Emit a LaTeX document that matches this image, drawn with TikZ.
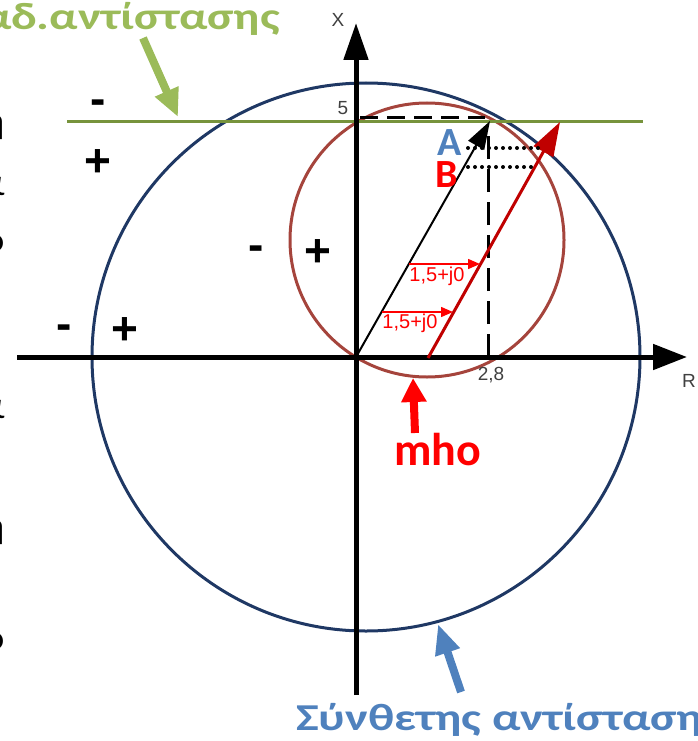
\documentclass[tikz,border=0pt]{standalone}
\usepackage{fontspec}
\setmainfont{Carlito}
\newfontfamily\arialfont{Liberation Sans}
\newfontfamily\widefont[FakeStretch=1.27]{Carlito}
\usetikzlibrary{arrows.meta}
\definecolor{navy}{RGB}{31,56,100}
\definecolor{mhobrown}{RGB}{165,68,60}
\definecolor{olive}{RGB}{119,147,60}
\definecolor{lgreen}{RGB}{155,187,89}
\definecolor{sblue}{RGB}{79,129,189}
\definecolor{dred}{RGB}{192,0,0}
\definecolor{gray4}{RGB}{64,64,64}
\tikzset{
  axis/.style={line width=5pt},
  bigtext/.style={font=\widefont\fontsize{38}{38}\selectfont\bfseries, inner sep=0pt},
  lettertext/.style={font=\fontsize{40}{40}\selectfont\bfseries, inner sep=0pt, anchor=base west},
  frag/.style={font=\widefont\fontsize{38}{38}\selectfont, inner sep=0pt, anchor=base east},
  sign/.style={font=\arialfont\fontsize{46}{46}\selectfont\bfseries, inner sep=0pt, anchor=base},
  axlabel/.style={font=\arialfont\fontsize{19}{19}\selectfont, text=gray4, inner sep=0pt},
  smallarrow/.style={red, line width=1.5pt, -{Triangle[length=12pt,width=10pt]}},
  smalllabel/.style={font=\arialfont\fontsize{20}{20}\selectfont, text=red, inner sep=0pt},
  fatarrow/.style={line width=8pt},
  dotrow/.style={line width=4pt, line cap=round, dash pattern=on 0pt off 7pt},
}
\begin{document}
\begin{tikzpicture}[x=1pt,y=-1pt]
\clip (0,0) rectangle (697,741);
% circles
\draw[navy, line width=3pt] (366,357) circle[radius=274];
\draw[mhobrown, line width=3pt] (427,240) circle[radius=137];
% green line
\coordinate (gl1) at (67,122);
\coordinate (gl2) at (643,122);
\draw[olive, line width=3pt] (gl1) -- (gl2);
% axes
\coordinate (O) at (356,357);
\coordinate (xs) at (17,357);
\coordinate (xe) at (687,357);
\coordinate (ys) at (356,695);
\coordinate (ye) at (356,23);
\draw[axis, -{Triangle[length=34pt,width=25pt]}] (xs) -- (xe);
\draw[axis, -{Triangle[length=37pt,width=24pt]}] (ys) -- (ye);
\node[axlabel, anchor=center] (lx) at (338,20) {X};
\node[axlabel, anchor=base] (l5) at (343,115) {5};
\node[axlabel, anchor=base] (l28) at (491,380) {2,8};
\node[axlabel, anchor=base west] (lR) at (682,387) {R};
% dashed projections
\coordinate (A) at (490,121);
\coordinate (dh1) at (360,118);
\coordinate (dh2) at (485,118);
\draw[line width=3pt, dash pattern=on 18pt off 9pt] (dh1) -- (dh2);
\coordinate (dv1) at (488,357);
\coordinate (dv2) at (488,136);
\draw[line width=3pt, dash pattern=on 23pt off 10pt] (dv1) -- (dv2);
% vectors
\draw[line width=2pt, -{Triangle[length=28pt,width=18pt]}] (O) -- (A);
\coordinate (Bs) at (428,358);
\coordinate (Be) at (560,122);
\draw[dred, line width=3pt, -{Triangle[length=34pt,width=22pt]}] (Bs) -- (Be);
% dotted rows
\coordinate (d1a) at (468,148);
\coordinate (d1b) at (543,148);
\coordinate (d2a) at (468,167);
\coordinate (d2b) at (535,167);
\draw[dotrow] (d1a) -- (d1b);
\draw[dotrow] (d2a) -- (d2b);
\node[lettertext, text=sblue] (tA) at (437,155) {A};
\node[lettertext, text=red] (tB) at (435,187) {B};
% shift arrows
\coordinate (s1a) at (409,264);
\coordinate (s1b) at (480,264);
\coordinate (s2a) at (382,312);
\coordinate (s2b) at (453,312);
\draw[smallarrow] (s1a) -- (s1b);
\draw[smallarrow] (s2a) -- (s2b);
\node[smalllabel] (t1) at (437,276) {1,5+j0};
\node[smalllabel] (t2) at (410,323) {1,5+j0};
% mho
\coordinate (m1) at (415,433);
\coordinate (m2) at (413,378);
\draw[red, fatarrow, -{Triangle[length=24pt,width=24pt]}] (m1) -- (m2);
\node[lettertext, text=red, font=\fontsize{46}{46}\selectfont\bfseries] (tmho) at (394,465) {mho};
% green label
\node[bigtext, text=lgreen, anchor=base east] (tg) at (280,30) {αδ.αντίστασης};
\coordinate (g1) at (143,38);
\coordinate (g2) at (178,117);
\draw[lgreen, fatarrow, -{Triangle[length=28pt,width=24pt]}] (g1) -- (g2);
% blue label
\node[bigtext, text=sblue, anchor=base west] (tb) at (296,730) {Σύνθετης αντίσταση};
\coordinate (b1) at (461,692);
\coordinate (b2) at (438,624);
\draw[sblue, fatarrow, -{Triangle[length=30pt,width=24pt]}] (b1) -- (b2);
% signs
\node[sign] (m1s) at (98,114) {-};
\node[sign] (p1s) at (98,176) {+};
\node[sign] (m2s) at (256,260) {-};
\node[sign] (p2s) at (318,266) {+};
\node[sign] (m3s) at (64,339) {-};
\node[sign] (p3s) at (125,344) {+};
% clipped text fragments at left edge
\node[frag] (f1) at (5,133) {η};
\node[frag] (f2) at (5,195) {α};
\node[frag] (f3) at (5,252) {ο};
\node[frag] (f4) at (5,418) {α};
\node[frag] (f5) at (5,538) {η};
\node[frag] (f6) at (5,650) {ο};
\end{tikzpicture}
\end{document}
